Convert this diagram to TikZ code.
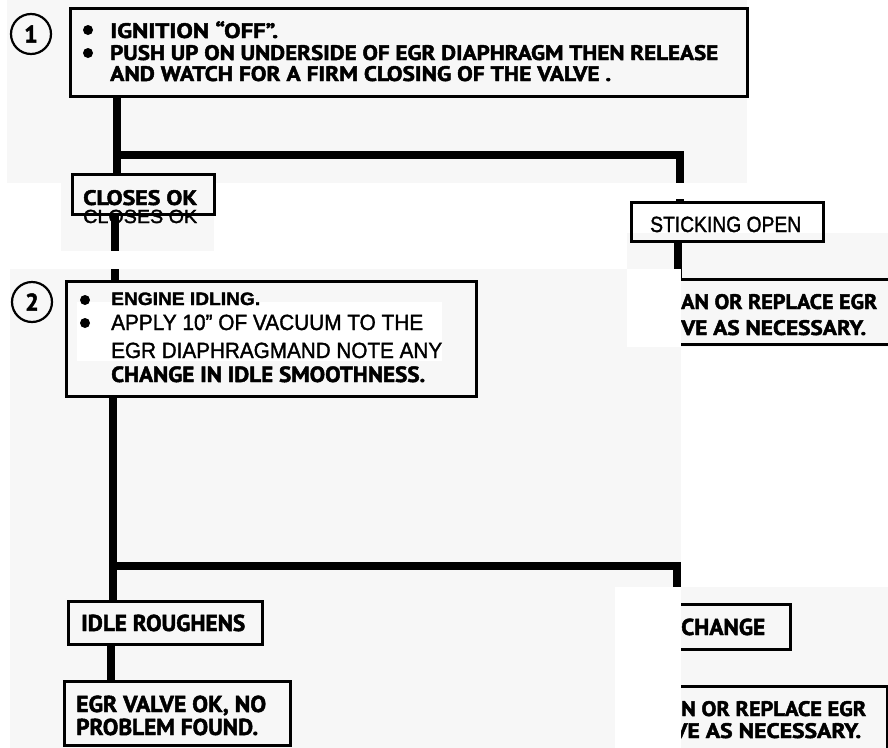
\documentclass[tikz,border=0pt]{standalone}
\usepackage{fontspec}
\usepackage{graphicx}
\newfontfamily\humsans{PT Sans}[BoldFeatures={FakeBold=2}]
\newfontfamily\grotesk{Liberation Sans}[FakeBold=1.6]
\definecolor{paper}{RGB}{247,247,247}
% one line of text squeezed or stretched to a given width, height kept
\newcommand\fitline[3]{\resizebox{#1pt}{\height}{#2#3}}
\newcommand\hb[1]{\humsans\bfseries\fontsize{#1}{#1}\selectfont}
\newcommand\gr[1]{\grotesk\fontsize{#1}{#1}\selectfont}
\newcommand\grb[1]{\grotesk\bfseries\fontsize{#1}{#1}\selectfont}

\tikzset{
  frame/.style={draw, line width=2.6pt, rectangle, inner sep=0pt, anchor=north west},
  conn/.style={line width=7.5pt},
  txt/.style={anchor=base west, inner sep=0pt},
  dot/.style={circle, fill, inner sep=0pt, minimum size=10pt},
  numring/.style={circle, draw, line width=2.2pt, minimum size=40pt, inner sep=0pt, font=\hb{24}},
  mask/.style={fill=white},
}

\begin{document}
\begin{tikzpicture}[x=1pt, y=-1pt]
\useasboundingbox (0,0) rectangle (888,747);
\fill[white] (0,0) rectangle (888,747);

% paper sheets
\fill[paper] (7,0) rectangle (747,183);
\fill[paper] (61,183) rectangle (214,251);
\fill[paper] (10,269) rectangle (681,760);
\fill[paper] (627,233) rectangle (888,347);
\fill[paper] (681,587) rectangle (888,760);
\fill[white] (77,302) rectangle (442,361);

% step 1
\node[numring] (n1) at (31,34) {1};
\node[frame, minimum width=677pt, minimum height=88pt] (s1) at (69,7) {};
\node[dot] (s1d1) at (88,30) {};
\node[dot] (s1d2) at (88,53) {};
\node[txt] (s1l1) at (110,38) {\fitline{168}{\hb{21}}{IGNITION “OFF”.}};
\node[txt] (s1l2) at (110,60) {\fitline{608}{\hb{21}}{PUSH UP ON UNDERSIDE OF EGR DIAPHRAGM THEN RELEASE}};
\node[txt] (s1l3) at (110,81) {\fitline{501}{\hb{21}}{AND WATCH FOR A FIRM CLOSING OF THE VALVE .}};

% results of step 1
\node[frame, minimum width=142pt, minimum height=40pt] (ok) at (71,173) {};
\node[txt] (okt) at (83,205) {\fitline{114}{\hb{21}}{CLOSES OK}};
\node[txt] (okg) at (83,223) {\fitline{114}{\gr{19}}{CLOSES OK}};
\node[frame, minimum width=192pt, minimum height=39pt] (stick) at (630,201) {};
\node[txt] (stickt) at (650,232) {\fitline{151}{\gr{22}}{STICKING OPEN}};
\node[frame, minimum width=270pt, minimum height=65pt] (r1) at (640,278) {};
\node[txt] (r1l1) at (681,309) {\fitline{196}{\hb{21}}{AN OR REPLACE EGR}};
\node[txt] (r1l2) at (681,335) {\fitline{185}{\hb{21}}{VE AS NECESSARY.}};

% step 2
\node[numring] (n2) at (32,302) {2};
\node[frame, minimum width=410pt, minimum height=115pt] (s2) at (65,280) {};
\node[dot] (s2d1) at (85,300) {};
\node[dot] (s2d2) at (85,323) {};
\node[txt] (s2l1) at (111,305) {\fitline{149}{\grb{18}}{ENGINE IDLING.}};
\node[txt] (s2l2) at (111,330) {\fitline{312}{\gr{22}}{APPLY 10” OF VACUUM TO THE}};
\node[txt] (s2l3) at (111,358) {\fitline{331}{\gr{22}}{EGR DIAPHRAGMAND NOTE ANY}};
\node[txt] (s2l4) at (111,382) {\fitline{314}{\hb{22}}{CHANGE IN IDLE SMOOTHNESS.}};

% results of step 2
\node[frame, minimum width=194pt, minimum height=43pt] (idle) at (67,600) {};
\node[txt] (idlet) at (81,631) {\fitline{164}{\hb{23}}{IDLE ROUGHENS}};
\node[frame, minimum width=226pt, minimum height=64pt] (good) at (63,680) {};
\node[txt] (goodl1) at (76,712) {\fitline{190}{\hb{23}}{EGR VALVE OK, NO}};
\node[txt] (goodl2) at (76,735) {\fitline{182}{\hb{23}}{PROBLEM FOUND.}};
\node[frame, minimum width=159pt, minimum height=45pt] (noch) at (630,603) {};
\node[txt] (nocht) at (681,635) {\fitline{84}{\hb{23}}{CHANGE}};
\node[frame, minimum width=256pt, minimum height=95pt] (r2) at (630,685) {};
\node[txt] (r2l1) at (681,716) {\fitline{185}{\hb{21}}{N OR REPLACE EGR}};
\node[txt] (r2l2) at (673,738) {\fitline{188}{\hb{21}}{VE  AS NECESSARY.}};

% connectors
\coordinate (j1) at (117,155);
\coordinate (k1) at (680,155);
\coordinate (j2) at (115,0);
\coordinate (k2) at (678,0);
\coordinate (j3) at (113,566);
\coordinate (k3) at (677,566);
\coordinate (j4) at (111,0);
\draw[conn] (s1.south -| j1) -- (ok.north -| j1);
\draw[conn] (j1) -| (stick.north -| k1);
\draw[conn] (ok.south -| j2) -- (s2.north -| j2);
\draw[conn] (stick.south -| k2) -- (r1.north -| k2);
\draw[conn] (s2.south -| j3) -- (idle.north -| j3);
\draw[conn] (j3) -| (noch.north -| k3);
\draw[conn] (idle.south -| j4) -- (good.north -| j4);

% blank strips of paper lying over the drawing
\fill[mask] (61,251) rectangle (214,269);
\fill[mask] (627,183) rectangle (747,199.4);
\fill[mask] (627,269) rectangle (681,347);
\fill[mask] (615,587) rectangle (681,790);
\end{tikzpicture}
\end{document}
